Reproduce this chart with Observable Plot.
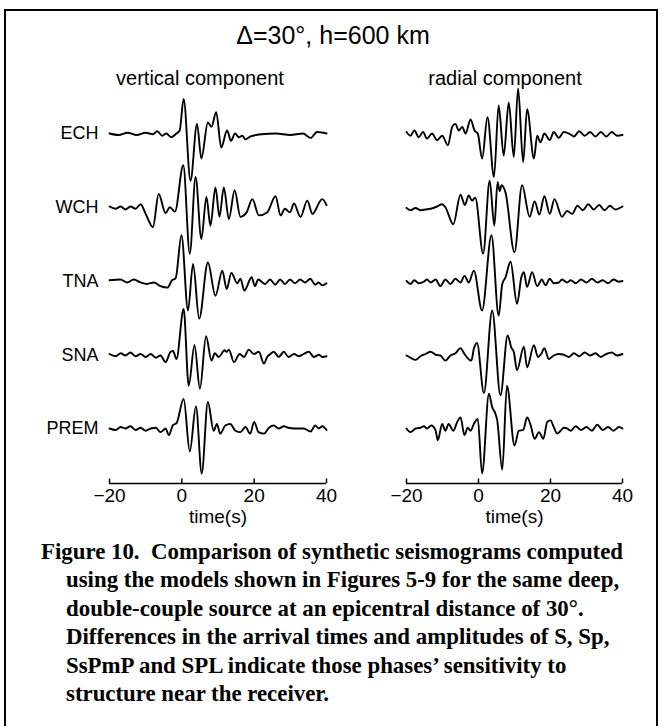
<!DOCTYPE html>
<html>
<head>
<meta charset="utf-8">
<script src="https://cdn.jsdelivr.net/npm/d3@7"></script>
<script src="https://cdn.jsdelivr.net/npm/@observablehq/plot@0.6"></script>
<style>
  html, body { margin: 0; padding: 0; background: #fff; }
  #fig { position: relative; width: 662px; height: 726px; overflow: hidden; background: #fff; color: #000;
         font-family: "Liberation Sans", Arial, Helvetica, sans-serif; }
  #frame { position: absolute; left: 4px; top: 9px; width: 654px; height: 760px; border: 2px solid #000; box-sizing: border-box; }
  .title { position: absolute; left: 0; width: 666px; top: 22.8px; text-align: center; font-size: 25px; line-height: 1; white-space: nowrap; }
  .sub { position: absolute; top: 68px; font-size: 20px; line-height: 1; white-space: nowrap; transform: translateX(-50%); }
  .panel { position: absolute; top: 40px; }
  .caption { position: absolute; top: 538px; left: 0; font-family: "Liberation Serif", "Times New Roman", Times, serif;
             font-weight: bold; font-size: 22.85px; line-height: 28.4px; white-space: nowrap; }
  .caption div { padding-left: 66px; }
  .caption div.first { padding-left: 41px; }
</style>
</head>
<body>
<div id="fig">
  <div id="frame"></div>
  <div class="title">Δ=30°, h=600 km</div>
  <div class="sub" style="left:200px">vertical component</div>
  <div class="sub" style="left:505px">radial component</div>
  <div class="panel" id="vert" style="left:0px"></div>
  <div class="panel" id="rad" style="left:340px"></div>
  <div class="caption">
    <div class="first">Figure 10.&nbsp; Comparison of synthetic seismograms computed</div>
    <div>using the models shown in Figures 5-9 for the same deep,</div>
    <div>double-couple source at an epicentral distance of 30°.</div>
    <div>Differences in the arrival times and amplitudes of S, Sp,</div>
    <div>SsPmP and SPL indicate those phases’ sensitivity to</div>
    <div>structure near the receiver.</div>
  </div>
</div>
<script>
// Stations, top to bottom, and the time-axis ticks (seconds)
const stations = ["ECH", "WCH", "TNA", "SNA", "PREM"];
const timeTicks = [-20, 0, 20, 40];

// Synthetic seismograms: [time (s), normalized amplitude] at the turning points
// Vertical component
const vertECH = [[-20,0.00],[-17.5,-0.02],[-15,0.01],[-12.5,-0.02],[-10,0.01],[-8,-0.01],[-6.8,0.03],[-5.4,-0.03],[-4.3,0.00],[-2.9,-0.05],[-1.5,0.00],[-0.6,0.04],[0.5,0.47],[2.4,-0.64],[4.2,0.13],[5.4,-0.34],[7.2,0.15],[8.2,0.09],[9.5,0.29],[10.9,-0.19],[12.5,0.04],[13.6,-0.10],[14.7,0.00],[15.8,-0.05],[16.7,-0.03],[17.6,-0.08],[19,-0.04],[22,-0.01],[26,0.00],[30,-0.02],[33.5,0.00],[35.6,-0.06],[37.4,0.02],[40,0.00]];
const vertWCH = [[-20,0.01],[-18.3,-0.02],[-16.9,0.01],[-15.6,-0.03],[-14.2,0.01],[-12.8,-0.02],[-11.4,0.04],[-10,-0.09],[-8,-0.27],[-6.4,0.18],[-4.5,-0.08],[-3.3,0.00],[-1.9,-0.06],[0.4,0.57],[2.2,-0.63],[3.8,0.41],[5.4,-0.43],[6.8,0.14],[7.9,-0.25],[9.3,0.27],[10.4,-0.13],[11.6,0.27],[13.0,-0.16],[14.6,0.23],[16.2,-0.13],[17.9,-0.07],[19.5,0.11],[21.3,-0.11],[23.6,-0.07],[25.9,0.15],[27.3,-0.11],[28.5,-0.02],[29.9,-0.07],[31,0.05],[32.8,-0.13],[34.7,0.09],[36.1,-0.09],[38.8,0.11],[40,0.03]];
const vertTNA = [[-20,0.01],[-17,0.02],[-15.1,-0.02],[-13.3,0.02],[-11.4,-0.02],[-9.6,-0.04],[-7.7,-0.02],[-5.9,-0.07],[-4.0,-0.09],[-2.7,0.01],[-1.7,0.04],[-0.1,0.62],[1.7,-0.40],[3.1,0.23],[4.8,-0.51],[7.2,0.25],[9.3,-0.20],[11.2,0.14],[12.4,-0.11],[13.7,0.11],[15.3,-0.03],[16.2,0.03],[17.3,-0.13],[19.3,0.05],[20.2,-0.07],[21.1,0.02],[23.0,-0.04],[24.4,0.02],[25.8,-0.05],[27.2,0.02],[28.5,-0.04],[29.9,0.02],[31.3,-0.03],[32.7,0.02],[34.1,-0.02],[35.5,0.03],[36.9,-0.05],[37.8,-0.02],[38.8,-0.06],[40,-0.03]];
const vertSNA = [[-20,0.01],[-18.3,-0.02],[-16.9,0.02],[-15.6,-0.01],[-14.2,0.03],[-12.8,-0.02],[-11.4,0.01],[-10,-0.03],[-8.6,0.01],[-7.2,-0.04],[-5.9,-0.01],[-4.5,-0.10],[-3.1,0.04],[-2.4,0.05],[-1.5,-0.06],[0.5,0.62],[1.9,-0.42],[3.5,0.13],[5.0,-0.46],[6.7,0.25],[8.2,-0.08],[9.1,0.02],[10.2,-0.03],[11.8,0.06],[12.4,0.04],[13.0,0.07],[14.4,-0.10],[16.0,0.01],[17.2,-0.03],[18.5,0.07],[19.9,0.01],[21.3,0.04],[22.7,-0.12],[23.6,-0.03],[24.5,0.01],[25.4,0.04],[26.8,-0.03],[28.2,0.04],[29.5,-0.03],[31,0.01],[32.4,-0.02],[33.7,0.01],[35.1,0.04],[36.5,-0.03],[37.9,0.00],[38.8,-0.03],[40,-0.02]];
const vertPREM = [[-20,0.00],[-18.3,-0.02],[-16.9,0.02],[-15.6,0.00],[-14.2,0.03],[-12.8,-0.02],[-11.4,0.01],[-10,-0.03],[-8.6,0.00],[-7.2,0.01],[-5.9,-0.05],[-4.5,0.00],[-3.6,-0.09],[-2.4,0.05],[-1.5,0.07],[0.5,0.40],[2.2,-0.31],[3.9,0.30],[5.5,-0.61],[7.2,0.36],[8.8,-0.03],[9.7,0.06],[10.6,-0.07],[12.0,0.04],[13.4,0.06],[14.8,-0.03],[16.2,-0.05],[17.6,0.02],[18.9,-0.07],[20.0,0.09],[21.2,-0.05],[22.7,-0.07],[24.1,0.01],[25.4,0.04],[26.8,0.00],[28.2,0.03],[29.5,0.01],[31,0.00],[33.7,0.00],[35.6,-0.04],[36.9,0.04],[37.9,0.00],[38.8,0.03],[40,-0.02]];

// Radial component
const radECH = [[-20,0.02],[-18.9,-0.03],[-17.8,0.04],[-16.6,-0.05],[-15.4,0.02],[-14.3,-0.07],[-12.9,0.00],[-11.5,-0.09],[-10.1,-0.03],[-8.5,-0.16],[-7.3,0.09],[-6.4,0.13],[-5.5,0.04],[-4.5,0.09],[-3.6,0.00],[-2.2,0.19],[-1.1,0.04],[-0.2,0.00],[1.0,-0.34],[2.5,0.22],[4.3,-0.59],[5.6,0.38],[7.0,-0.30],[8.4,0.42],[9.8,-0.32],[11.0,0.61],[12.4,-0.39],[13.5,0.33],[15.4,-0.34],[16.3,-0.03],[17.2,-0.12],[18.3,0.00],[19.8,-0.09],[20.9,0.02],[22.3,-0.06],[23.7,0.02],[25.1,0.00],[26.5,-0.04],[28,0.03],[29.5,-0.03],[31,0.02],[32.5,-0.04],[34,0.02],[35.5,-0.04],[37,0.02],[38.5,-0.03],[40,-0.02]];
const radWCH = [[-20,-0.01],[-18.9,-0.04],[-17.5,-0.01],[-16.1,-0.04],[-14.7,-0.03],[-13.3,-0.02],[-11.5,0.01],[-10.1,0.04],[-9.2,0.00],[-7.0,-0.23],[-5.0,0.17],[-3.8,0.03],[-2.7,0.16],[-1.8,0.09],[-0.9,0.13],[1.3,-0.63],[3.1,0.36],[4.4,-0.25],[5.3,0.34],[5.9,0.22],[6.4,0.30],[7.5,0.20],[10.0,-0.61],[12.1,0.30],[14.2,-0.13],[15.6,0.08],[16.9,-0.10],[18.3,0.15],[19.8,-0.09],[21.1,0.11],[23.2,-0.13],[24.6,-0.05],[26,-0.09],[27.5,0.02],[29,-0.04],[30.5,0.04],[32,-0.03],[33.5,0.03],[35,-0.04],[36.5,0.02],[38,-0.03],[40,0.01]];
const radTNA = [[-20,0.00],[-18.9,-0.04],[-17.8,0.01],[-16.6,-0.03],[-15.2,-0.01],[-14.3,0.02],[-13.3,-0.02],[-11.9,0.02],[-10.6,-0.07],[-9.2,0.02],[-7.8,-0.04],[-6.4,0.03],[-5.0,-0.02],[-3.9,0.07],[-2.7,-0.02],[-1.3,0.14],[1.0,-0.40],[3.6,0.62],[5.6,-0.47],[6.6,-0.04],[7.5,0.05],[8.9,0.26],[10.7,-0.31],[11.9,0.05],[12.6,0.12],[13.5,-0.08],[14.9,0.12],[16.3,-0.07],[17.6,0.02],[18.6,-0.06],[19.8,0.03],[20.9,-0.03],[22.3,-0.02],[23.2,0.02],[24.6,-0.02],[25.6,0.01],[27,-0.03],[28.5,0.02],[30,-0.02],[31.5,0.03],[33,-0.02],[34.5,0.01],[36,-0.03],[37.5,0.02],[39,-0.01],[40,0.00]];
const radSNA = [[-20,-0.01],[-18.9,-0.04],[-17.5,-0.07],[-16.1,-0.02],[-14.7,0.01],[-13.3,0.04],[-11.9,0.00],[-10.6,-0.01],[-9.2,-0.08],[-7.8,-0.01],[-6.4,0.02],[-5.0,0.09],[-3.9,0.01],[-2.0,-0.08],[-1.3,0.08],[-0.4,0.16],[1.5,-0.52],[3.8,0.60],[6.1,-0.55],[8.1,0.26],[9.1,0.10],[9.8,0.04],[10.7,-0.21],[12.6,0.11],[13.5,-0.17],[15.4,0.13],[16.5,-0.03],[17.4,0.01],[18.3,0.09],[19.5,-0.06],[20.9,-0.01],[22.3,0.01],[23.7,0.00],[25.1,-0.03],[26.5,0.02],[28,-0.02],[29.5,0.03],[31,-0.01],[32.5,0.02],[34,-0.03],[35.5,0.01],[37,0.03],[38.5,-0.01],[40,0.01]];
const radPREM = [[-20,0.00],[-18.9,-0.05],[-17.5,0.00],[-16.1,0.01],[-15.2,0.03],[-14.3,0.00],[-13.1,0.04],[-11.9,-0.03],[-11.3,-0.16],[-10.1,0.06],[-9.2,-0.03],[-8.3,0.06],[-7.0,-0.03],[-5.9,0.09],[-5.0,0.15],[-3.9,-0.09],[-3.0,0.01],[-2.2,-0.03],[-1.3,0.06],[-0.2,0.13],[1.0,-0.61],[2.9,0.47],[3.8,0.29],[4.7,0.20],[5.2,0.11],[6.6,-0.56],[7.9,0.58],[10.0,-0.23],[11.2,-0.03],[12.4,-0.02],[13.5,0.15],[14.4,0.06],[15.6,-0.14],[16.8,-0.05],[18.0,-0.14],[19.1,0.09],[20.0,0.11],[20.9,0.02],[21.9,-0.07],[22.8,-0.03],[23.7,0.01],[24.6,0.00],[25.6,-0.03],[27,0.03],[28.5,-0.02],[30,0.02],[31.5,-0.03],[33,0.05],[34.5,-0.02],[36,0.02],[37.5,-0.03],[39,0.02],[40,0.00]];

const verticalTraces = [vertECH, vertWCH, vertTNA, vertSNA, vertPREM];
const radialTraces = [radECH, radWCH, radTNA, radSNA, radPREM];

// Each station's trace sits on its own baseline: ECH on top, PREM at the bottom
const baseline = i => stations.length - 1 - i;
const toRows = traces => traces.flatMap((trace, i) =>
  trace.map(([t, a]) => ({station: stations[i], t, y: baseline(i) + a})));

const fontFamily = '"Liberation Sans", Arial, Helvetica, sans-serif';
const minusFormat = d => (d < 0 ? "\u2212" + Math.abs(d) : String(d));

function seismogramPanel(traces, {width, marginLeft, marginRight, withLabels}) {
  const height = 500, marginTop = 19.25, marginBottom = 57;
  const yLo = -0.746, yHi = 5;
  const pxPerUnit = (height - marginTop - marginBottom) / (yHi - yLo);
  const marks = [
    Plot.ruleY([yLo], {stroke: "#000", strokeWidth: 1.5}),
    Plot.ruleX(timeTicks, {x: d => d, y1: yLo, y2: yLo + 4.5 / pxPerUnit, stroke: "#000", strokeWidth: 1.5}),
    Plot.axisX(timeTicks, {tickSize: 0, tickPadding: 5, fontSize: 19, label: null, tickFormat: minusFormat}),
    Plot.line(toRows(traces), {x: "t", y: "y", z: "station", curve: "monotone-x",
      stroke: "#000", strokeWidth: 1.9, strokeLinejoin: "round"}),
    Plot.text(["time(s)"], {frameAnchor: "bottom", dy: 39, fontSize: 19})
  ];
  if (withLabels) {
    marks.push(Plot.text(stations, {y: (d, i) => baseline(i), text: d => d, frameAnchor: "left",
      textAnchor: "end", dx: -11, fontSize: 18}));
  }
  return Plot.plot({
    width, height, marginTop, marginBottom, marginLeft, marginRight,
    x: {domain: [-20, 40]},
    y: {domain: [yLo, yHi], axis: null},
    style: {fontFamily, fontSize: "19px", color: "#000", background: "transparent", overflow: "visible"},
    marks
  });
}

document.getElementById("vert").append(
  seismogramPanel(verticalTraces, {width: 340, marginLeft: 109, marginRight: 14, withLabels: true}));
document.getElementById("rad").append(
  seismogramPanel(radialTraces, {width: 322, marginLeft: 66, marginRight: 40, withLabels: false}));
</script>
</body>
</html>
